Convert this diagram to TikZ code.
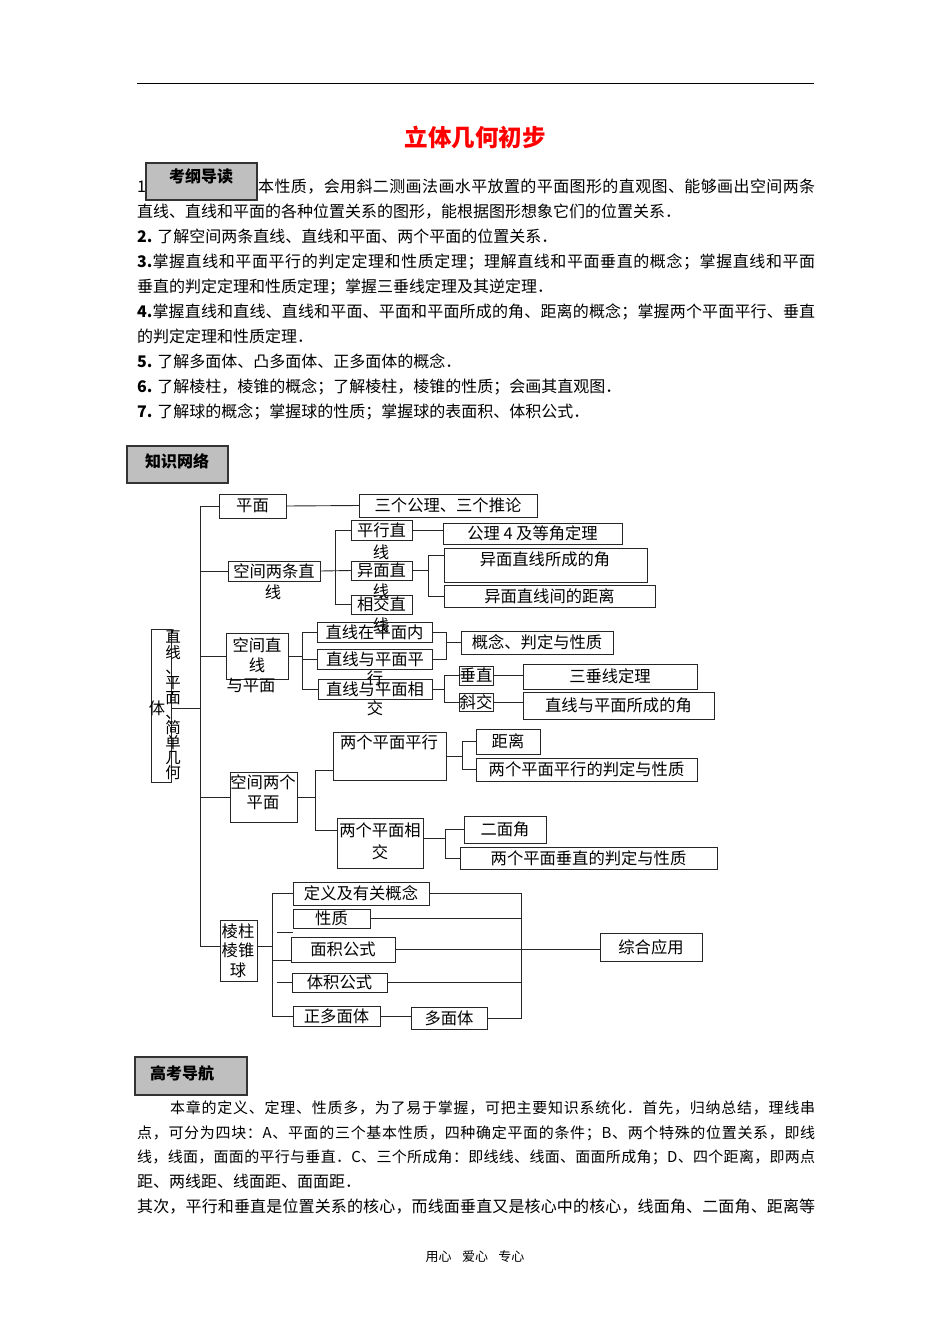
\documentclass[tikz,border=0pt]{standalone}
\usepackage{fontspec}
\setmainfont{Noto Sans CJK SC}
\newXeTeXintercharclass\cjkcls
\count255="3000
\loop\XeTeXcharclass\count255=\cjkcls\advance\count255 by 1\ifnum\count255<"3040\repeat
\count255="4E00
\loop\XeTeXcharclass\count255=\cjkcls\advance\count255 by 1\ifnum\count255<"A000\repeat
\count255="FF00
\loop\XeTeXcharclass\count255=\cjkcls\advance\count255 by 1\ifnum\count255<"FF60\repeat
\XeTeXinterchartoks\cjkcls\cjkcls={\hskip0pt plus 1pt\relax}
\XeTeXinterchartoks 0 \cjkcls={\hskip0pt plus 1pt\relax}
\XeTeXinterchartoks\cjkcls 0 ={\hskip0pt plus 1pt\relax}
\XeTeXinterchartokenstate=1
\newcommand\dgf{\fontsize{16.3}{16.3}\selectfont}
\newcommand\bdf{\fontsize{16}{16}\selectfont}
\newcommand\sdf{\fontsize{15}{15}\selectfont}
\newcommand\hdf{\bfseries\fontsize{16}{16}\selectfont}
\newcommand\bx[7][]{\node[bx,#1,minimum width={(#5-#3)*1pt},minimum height={(#6-#4)*1pt}] (#2) at ({(#3+#5)/2},{(#4+#6)/2}) {#7};}
\begin{document}
\begin{tikzpicture}[x=1pt,y=-1pt,
  bx/.style={draw=black!85,line width=0.9pt,inner sep=0pt,outer sep=0pt,font=\dgf},
  ln/.style={draw=black!85,line width=0.9pt},
  txt/.style={inner sep=0pt,font=\dgf},
  bl/.style={inner sep=0pt,anchor=base west,font=\bdf},
  hd/.style={draw=black!80,fill=black!25,line width=1.2pt,inner sep=0pt},
  hdt/.style={inner sep=0pt,font=\hdf}]
\useasboundingbox[fill=white] (0,0) rectangle (950,1344);
% header
\draw[line width=0.8pt] (137,83) -- (814,83);
\node[inner sep=0pt,font=\bfseries\fontsize{23.5}{23.5}\selectfont,text=red] (title) at (475,137) {立体几何初步};
% 考纲导读
\node[bl] (l1a) at (137,192.5) {1};
\node[hd,minimum width=111pt,minimum height=37pt] (kg) at (201.5,181.5) {};
\node[hdt] (kgt) at (201,176) {考纲导读};
\node[bl] (l1) at (258,192.5) {\makebox[557pt][s]{本性质，会用斜二测画法画水平放置的平面图形的直观图、能够画出空间两条}};
\node[bl] (l2) at (137,217.5) {直线、直线和平面的各种位置关系的图形，能根据图形想象它们的位置关系．};
\node[bl] (l3) at (137,242.5) {\textbf{2.} 了解空间两条直线、直线和平面、两个平面的位置关系．};
\node[bl] (l4) at (137,267.5) {\makebox[678pt][s]{\textbf{3.}掌握直线和平面平行的判定定理和性质定理；理解直线和平面垂直的概念；掌握直线和平面}};
\node[bl] (l5) at (137,292.5) {垂直的判定定理和性质定理；掌握三垂线定理及其逆定理．};
\node[bl] (l6) at (137,317) {\makebox[678pt][s]{\textbf{4.}掌握直线和直线、直线和平面、平面和平面所成的角、距离的概念；掌握两个平面平行、垂直}};
\node[bl] (l7) at (137,342) {的判定定理和性质定理．};
\node[bl] (l8) at (137,367) {\textbf{5.} 了解多面体、凸多面体、正多面体的概念．};
\node[bl] (l9) at (137,392) {\textbf{6.} 了解棱柱，棱锥的概念；了解棱柱，棱锥的性质；会画其直观图．};
\node[bl] (l10) at (137,417) {\textbf{7.} 了解球的概念；掌握球的性质；掌握球的表面积、体积公式．};
% 知识网络
\node[hd,minimum width=101pt,minimum height=37pt] (zs) at (177.5,464.5) {};
\node[hdt] (zst) at (177,461) {知识网络};
% main vertical box
\bx{main}{151}{629}{171}{782}{}
\node[txt,align=center,font=\fontsize{15.5}{15.1}\selectfont] (mainv) at (173,705) {直\\线\\、\\平\\面\\、\\简\\单\\几\\何};
\node[txt] (maint) at (157,708) {体};
% level 1
\bx{pm}{219}{494}{286}{518}{平面}
\bx{kj2}{228}{561}{320}{581}{}
\node[txt] (kj2a) at (274,571) {空间两条直};
\node[txt] (kj2b) at (273,592) {线};
\bx{kzp}{226}{633}{288}{679}{}
\node[txt] (kzpa) at (257,645) {空间直};
\node[txt] (kzpb) at (257,665) {线};
\node[txt] (kzpc) at (251,685) {与平面};
\bx{kpm}{230}{772}{297}{822}{}
\node[txt] (kpma) at (263,782) {空间两个};
\node[txt] (kpmb) at (263,803) {平面};
\bx{lzq}{220}{920}{257}{981}{}
\node[txt] (lzqa) at (238,931) {棱柱};
\node[txt] (lzqb) at (238,950) {棱锥};
\node[txt] (lzqc) at (238,970) {球};
% trunk
\coordinate (t0) at (200,506);
\coordinate (t1) at (200,946);
\coordinate (tm) at (200,708);
\draw[ln] (pm.west) -| (t1) -- (t1 -| lzq.west);
\draw[ln] (tm -| main.east) -- (tm);
\draw[ln] (kj2.west) -- (kj2.west -| t0);
\draw[ln] (kzp.west) -- (kzp.west -| t0);
\draw[ln] (kpm.west) -- (kpm.west -| t0);
% 平面
\bx{sg}{359}{494}{537}{517}{三个公理、三个推论}
\draw[ln] (pm.east) -- (sg.west);
% 空间两条直线
\bx{pxzx}{351}{520}{412}{540}{}
\node[txt] (pxzxa) at (381.5,530) {平行直};
\node[txt] (pxzxb) at (381,552) {线};
\bx{ymzx}{351}{561}{412}{580}{}
\node[txt] (ymzxa) at (381.5,570) {异面直};
\node[txt] (ymzxb) at (381,591) {线};
\bx{xjzx}{351}{595}{412}{614}{}
\node[txt] (xjzxa) at (381.5,604) {相交直};
\node[txt] (xjzxb) at (381,625) {线};
\draw[ln] (kj2.east) -- (ymzx.west);
\draw[ln] (pxzx.west) -| (335,604.5) -- (xjzx.west);
\bx{gl4}{443}{523}{622}{544}{公理 4 及等角定理}
\draw[ln] (pxzx.east) -- (pxzx.east -| gl4.west);
\bx{ymj}{444}{548}{647}{582}{}
\node[txt] (ymjt) at (545,559) {异面直线所成的角};
\bx{ymd}{444}{585}{655}{607}{异面直线间的距离}
\coordinate (b2t) at (428,555);
\coordinate (b2b) at (428,596);
\draw[ln] (ymzx.east) -- (ymzx.east -| b2t);
\draw[ln] (b2t -| ymj.west) -- (b2t) -- (b2b) -- (ymd.west);
% 空间直线与平面
\bx{zz1}{317}{622}{432}{642}{直线在平面内}
\bx{zz2}{317}{649}{432}{669}{}
\node[txt] (zz2a) at (375,659) {直线与平面平};
\node[txt] (zz2b) at (375,678) {行};
\bx{zz3}{318}{679}{432}{699}{}
\node[txt] (zz3a) at (375,689) {直线与平面相};
\node[txt] (zz3b) at (375,708) {交};
\coordinate (b3) at (302,656);
\draw[ln] (kzp.east) -- (b3);
\draw[ln] (zz1.west) -| (302,689) -- (zz3.west);
\draw[ln] (zz2.west) -- (zz2.west -| b3);
\bx{gn}{461}{631}{613}{654}{概念、判定与性质}
\coordinate (b4) at (446,645);
\draw[ln] (zz1.east) -| (446,659) -- (zz2.east);
\draw[ln] (gn.west) -- (gn.west -| b4);
\bx{cz}{459}{666}{493}{685}{垂直}
\bx{xj}{459}{693}{493}{711}{斜交}
\coordinate (b5) at (444,689);
\draw[ln] (zz3.east) -- (b5);
\draw[ln] (cz.west) -| (444,702) -- (xj.west);
\bx{sxd}{523}{664}{697}{689}{三垂线定理}
\bx{zjm}{523}{692}{714}{719}{直线与平面所成的角}
\draw[ln] (cz.east) -- (cz.east -| sxd.west);
\draw[ln] (xj.east) -- (xj.east -| zjm.west);
% 空间两个平面
\bx{pmpx}{333}{732}{446}{780}{}
\node[txt] (pmpxt) at (389,742) {两个平面平行};
\bx{pmxj}{337}{818}{423}{868}{}
\node[txt] (pmxja) at (380,830) {两个平面相};
\node[txt] (pmxjb) at (380,852) {交};
\coordinate (b6t) at (315,770);
\coordinate (b6b) at (315,830);
\draw[ln] (kpm.east) -- (kpm.east -| b6t);
\draw[ln] (b6t -| pmpx.west) -- (b6t) -- (b6b) -- (b6b -| pmxj.west);
\bx{jl}{476}{729}{540}{754}{距离}
\bx{pxpd}{476}{758}{697}{781}{两个平面平行的判定与性质}
\coordinate (b7) at (462,755);
\draw[ln] (pmpx.east) -- (pmpx.east -| b7);
\draw[ln] (jl.west) -| (462,769.5) -- (pxpd.west);
\bx{emj}{464}{816}{546}{843}{二面角}
\bx{czpd}{460}{847}{717}{869}{两个平面垂直的判定与性质}
\coordinate (b8) at (445,838);
\draw[ln] (b8 -| pmxj.east) -- (b8);
\draw[ln] (emj.west) -| (445,858) -- (czpd.west);
% 棱柱棱锥球
\bx{dy}{293}{882}{429}{905}{定义及有关概念}
\bx{xz}{293}{909}{370}{928}{性质}
\bx{mj}{291}{937}{395}{962}{面积公式}
\bx{tj}{292}{973}{387}{992}{体积公式}
\bx{zd}{293}{1006}{380}{1026}{正多面体}
\bx{dmt}{411}{1007}{487}{1029}{多面体}
\bx{zh}{600}{933}{702}{961}{综合应用}
\coordinate (b9) at (272,946);
\coordinate (b9b) at (272,1016);
\draw[ln] (b9 -| lzq.east) -- (b9);
\draw[ln] (dy.west) -| (b9b) -- (zd.west);
\coordinate (s1) at (277,932);
\coordinate (s2) at (272,960);
\coordinate (s3) at (277,982.5);
\draw[ln] (s1) -- (s1 -| xz.west);
\draw[ln] (s2) -- (s2 -| mj.west);
\draw[ln] (s3) -- (tj.west);
\draw[ln] (zd.east) -- (zd.east -| dmt.west);
\coordinate (r1) at (521,893);
\coordinate (r2) at (521,1018);
\draw[ln] (dy.east) -| (r2) -- (dmt.east);
\draw[ln] (xz.east) -- (xz.east -| r1);
\draw[ln] (mj.east) -- (mj.east -| zh.west);
\draw[ln] (tj.east) -- (tj.east -| r1);
% 高考导航
\node[hd,minimum width=112pt,minimum height=38pt] (gk) at (191,1076) {};
\node[hdt] (gkt) at (182,1073) {高考导航};
\node[bl,font=\sdf] (p1) at (170,1113.5) {\makebox[645pt][s]{本章的定义、定理、性质多，为了易于掌握，可把主要知识系统化．首先，归纳总结，理线串}};
\node[bl,font=\sdf] (p2) at (137,1138.5) {\makebox[678pt][s]{点，可分为四块：A、平面的三个基本性质，四种确定平面的条件；B、两个特殊的位置关系，即线}};
\node[bl,font=\sdf] (p3) at (137,1162.5) {\makebox[678pt][s]{线，线面，面面的平行与垂直．C、三个所成角：即线线、线面、面面所成角；D、四个距离，即两点}};
\node[bl] (p4) at (137,1187.5) {距、两线距、线面距、面面距．};
\node[bl] (p5) at (137,1212.5) {\makebox[678pt][s]{其次，平行和垂直是位置关系的核心，而线面垂直又是核心中的核心，线面角、二面角、距离等}};
% footer
\node[inner sep=0pt,font=\fontsize{13}{13}\selectfont] (ft) at (475,1257) {用心\hspace{0.8em}爱心\hspace{0.8em}专心};
\end{tikzpicture}
\end{document}
